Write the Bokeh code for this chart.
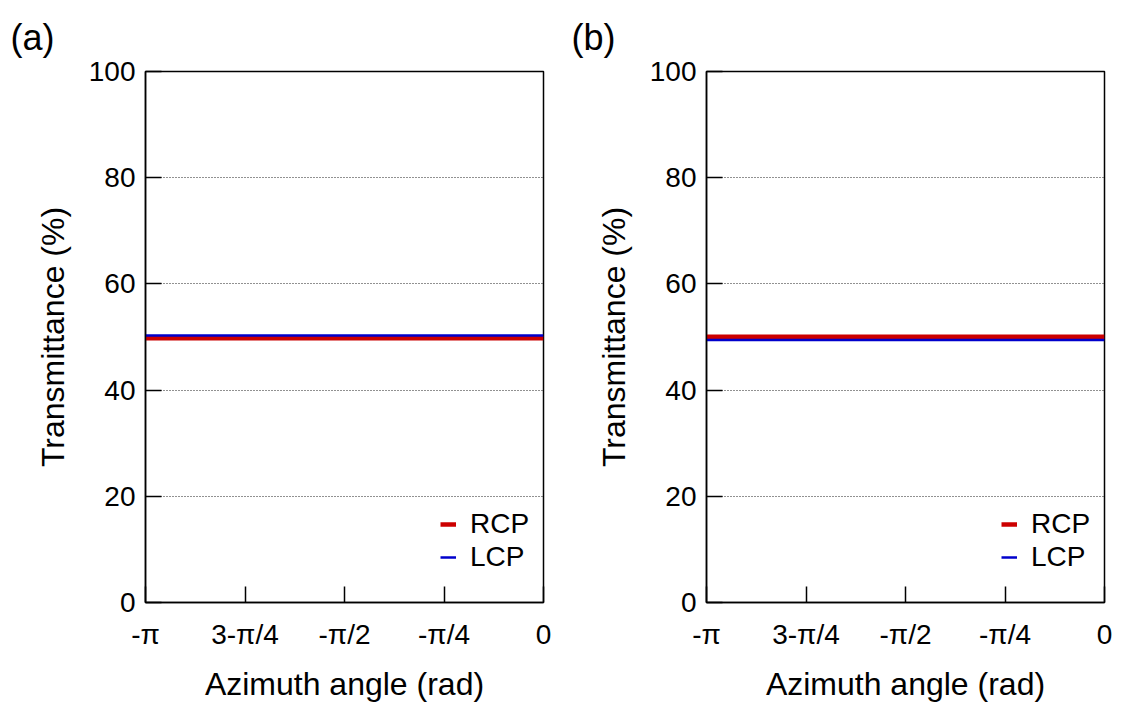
import math
from bokeh.plotting import figure
from bokeh.layouts import row
from bokeh.models import Range1d, FixedTicker, Legend, LegendItem
from bokeh.embed import file_html
from bokeh.resources import INLINE

azimuth = [-math.pi, -3 * math.pi / 4, -math.pi / 2, -math.pi / 4, 0.0]
rcp_a = [49.75, 49.75, 49.75, 49.75, 49.75]
lcp_a = [50.3, 50.3, 50.3, 50.3, 50.3]
rcp_b = [50.05, 50.05, 50.05, 50.05, 50.05]
lcp_b = [49.45, 49.45, 49.45, 49.45, 49.45]
x_ticks = [-math.pi, -3 * math.pi / 4, -math.pi / 2, -math.pi / 4, 0.0]
x_tick_labels = ["-π", "3-π/4", "-π/2", "-π/4", "0"]
y_ticks = [0, 20, 40, 60, 80, 100]
panel_labels = ["(a)", "(b)"]

FONT = "Liberation Sans"
RED = "#cc0000"
BLUE = "#0000cc"


def make(rcp, lcp, tag, width, right_border):
    p = figure(width=width, height=704, output_backend="svg", toolbar_location=None,
               x_range=Range1d(-math.pi, 0), y_range=Range1d(0, 100),
               min_border_left=145, min_border_right=right_border,
               min_border_top=71, min_border_bottom=101)
    p.outline_line_color = "black"
    p.outline_line_width = 1.5
    p.background_fill_color = "white"
    p.border_fill_color = "white"

    p.title.text = tag
    p.title.align = "left"
    p.title.offset = -135
    p.title.text_font = FONT
    p.title.text_font_size = "36px"
    p.title.text_font_style = "normal"
    p.title.text_color = "black"
    p.title.standoff = 27

    p.xgrid.visible = False
    p.ygrid.ticker = FixedTicker(ticks=[20, 40, 60, 80])
    p.ygrid.grid_line_color = "#222222"
    p.ygrid.grid_line_dash = "1 2"
    p.ygrid.grid_line_width = 1

    for ax in (p.xaxis[0], p.yaxis[0]):
        ax.axis_line_color = "black"
        ax.axis_line_width = 1.5
        ax.major_tick_in = 16
        ax.major_tick_out = 0
        ax.major_tick_line_color = "black"
        ax.major_tick_line_width = 1.5
        ax.minor_tick_line_color = None
        ax.major_label_text_font = FONT
        ax.major_label_text_font_size = "28px"
        ax.major_label_text_color = "black"
        ax.axis_label_text_font = FONT
        ax.axis_label_text_font_size = "32px"
        ax.axis_label_text_font_style = "normal"
        ax.axis_label_text_color = "black"

    p.xaxis.ticker = FixedTicker(ticks=x_ticks)
    p.xaxis.major_label_overrides = {t: l for t, l in zip(x_ticks, x_tick_labels)}
    p.xaxis.major_label_standoff = 16
    p.xaxis.axis_label = "Azimuth angle (rad)"
    p.xaxis.axis_label_standoff = 13

    p.yaxis.ticker = FixedTicker(ticks=y_ticks)
    p.yaxis.major_label_standoff = 10
    p.yaxis.axis_label = "Transmittance (%)"
    p.yaxis.axis_label_standoff = 15

    r1 = p.line(azimuth, rcp, line_color=RED, line_width=4.5)
    r2 = p.line(azimuth, lcp, line_color=BLUE, line_width=2.5)

    legend = Legend(items=[LegendItem(label="RCP", renderers=[r1]),
                           LegendItem(label="LCP", renderers=[r2])],
                    location=(295, 29), padding=0, margin=0, spacing=1,
                    glyph_width=16, glyph_height=28, label_standoff=14,
                    label_text_font=FONT, label_text_font_size="28px",
                    label_text_color="black", label_height=28,
                    border_line_alpha=0, background_fill_alpha=0)
    p.add_layout(legend, "center")
    return p


pa = make(rcp_a, lcp_a, panel_labels[0], 561, 18)
pb = make(rcp_b, lcp_b, panel_labels[1], 560, 17)
layout = row(pa, pb)

open("out.html", "w").write(file_html(layout, INLINE))
